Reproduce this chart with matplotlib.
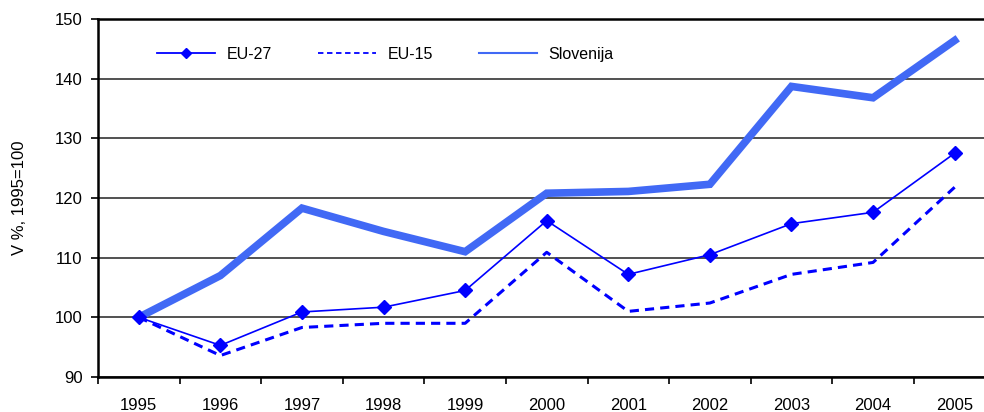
import numpy as np
import matplotlib
matplotlib.use("Agg")
from matplotlib import pyplot as plt
from matplotlib.lines import Line2D

plt.rcParams['font.family'] = ['Liberation Sans', 'DejaVu Sans']

years = ['1995', '1996', '1997', '1998', '1999', '2000', '2001', '2002', '2003', '2004', '2005']
eu27 = [100, 95.3, 100.9, 101.7, 104.5, 116.2, 107.2, 110.5, 115.7, 117.6, 127.5]
eu15 = [100, 93.6, 98.3, 99.0, 99.0, 110.9, 101.0, 102.4, 107.2, 109.2, 121.8]
slovenija = [100, 107.0, 118.3, 114.4, 111.0, 120.8, 121.1, 122.3, 138.7, 136.8, 146.4]

x = np.arange(len(years))

fig = plt.figure(figsize=(9.84, 4.12), dpi=100)
ax = fig.add_axes([98/984, 35/412, 886/984, 358/412])

ax.plot(x, slovenija, color='#4169F5', lw=5.5, solid_joinstyle='miter', zorder=3)
ax.plot(x, eu15, color='#0000FF', lw=2.2, ls=(0, (3, 2)), zorder=4)
ax.plot(x, eu27, color='#0000FF', lw=1.2, marker='D', markersize=7.5, zorder=5)

ax.set_xlim(-0.5, 10.36)
ax.set_ylim(90, 150)
ax.set_yticks(range(90, 151, 10))
ax.yaxis.grid(True, color='#333333', lw=1.2)
ax.set_axisbelow(True)

ax.set_xticks(x)
ax.set_xticklabels(years)
ax.set_xticks(np.arange(-0.5, 10.5, 1), minor=True)
ax.tick_params(axis='x', which='major', length=0, pad=15, labelsize=12)
ax.tick_params(axis='x', which='minor', length=5, width=1.2, direction='out')
ax.tick_params(axis='y', length=5, width=1.2, pad=6, labelsize=12)

ax.spines['right'].set_visible(False)
for s in ['left', 'bottom', 'top']:
    ax.spines[s].set_linewidth(1.8)
    ax.spines[s].set_color('black')

ax.set_ylabel('V %, 1995=100', fontsize=12, labelpad=20)

# legend uses thin lines like the original
handles = [
    Line2D([], [], color='#0000FF', lw=1.3, marker='D', markersize=5),
    Line2D([], [], color='#0000FF', lw=1.3, ls=(0, (3, 2))),
    Line2D([], [], color='#4169F5', lw=1.5),
]
ax.legend(handles, ['EU-27', 'EU-15', 'Slovenija'], loc='center left',
          bbox_to_anchor=(0.0666, 0.902), ncol=3, frameon=False, fontsize=11.5,
          handlelength=3.6, handletextpad=0.75, columnspacing=2.9,
          borderpad=0, borderaxespad=0)

fig.savefig('out.png', dpi=100)
